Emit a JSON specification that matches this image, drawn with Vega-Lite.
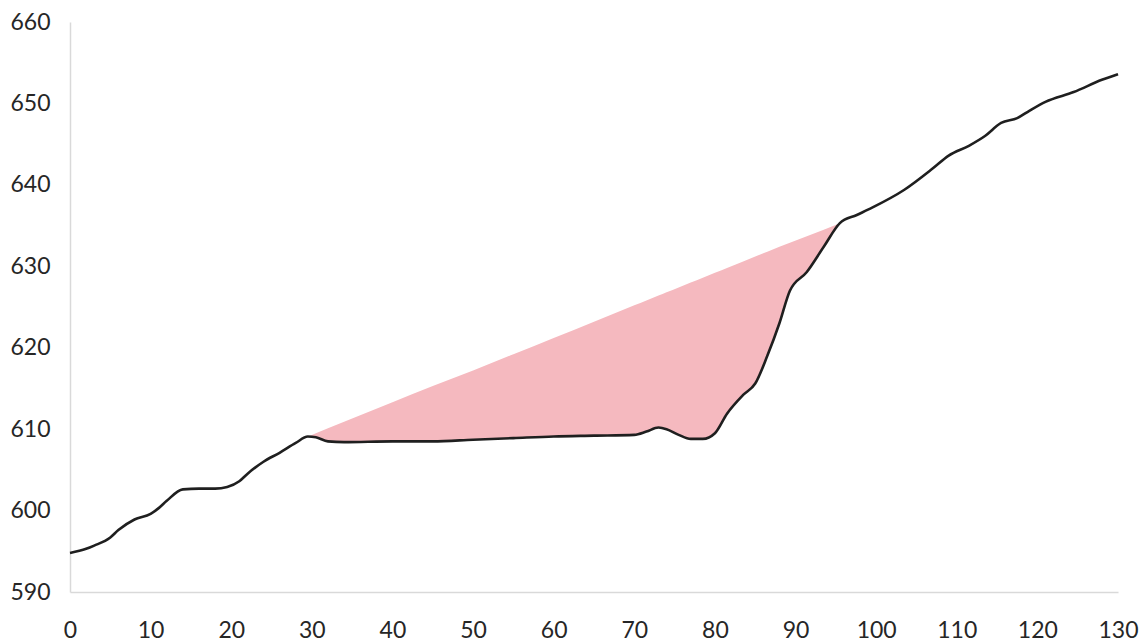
{
  "$schema": "https://vega.github.io/schema/vega-lite/v6.json",
  "width": 1048,
  "height": 570,
  "autosize": {"type": "none"},
  "padding": {"left": 70, "top": 22, "right": 24, "bottom": 50},
  "background": "white",
  "config": {"view": {"stroke": null}},
  "datasets": {
    "profile": [
      {"x": 0, "elev": 594.8}, {"x": 2, "elev": 595.3}, {"x": 3, "elev": 595.7}, {"x": 5, "elev": 596.7},
      {"x": 6, "elev": 597.6}, {"x": 8, "elev": 598.9}, {"x": 10, "elev": 599.6}, {"x": 11, "elev": 600.3},
      {"x": 12, "elev": 601.2}, {"x": 14, "elev": 602.6}, {"x": 16, "elev": 602.7}, {"x": 18, "elev": 602.7},
      {"x": 19.5, "elev": 602.9}, {"x": 21, "elev": 603.6}, {"x": 22, "elev": 604.5}, {"x": 24, "elev": 606.0},
      {"x": 26, "elev": 607.1}, {"x": 28, "elev": 608.3}, {"x": 29.5, "elev": 609.1}, {"x": 30.5, "elev": 609.0},
      {"x": 32, "elev": 608.5}, {"x": 34, "elev": 608.4}, {"x": 40, "elev": 608.5}, {"x": 45, "elev": 608.5},
      {"x": 50, "elev": 608.7}, {"x": 55, "elev": 608.9}, {"x": 60, "elev": 609.1}, {"x": 65, "elev": 609.2},
      {"x": 70, "elev": 609.3}, {"x": 71.5, "elev": 609.7}, {"x": 73, "elev": 610.2}, {"x": 74, "elev": 610.0},
      {"x": 75.5, "elev": 609.3}, {"x": 77, "elev": 608.8}, {"x": 78.5, "elev": 608.8}, {"x": 80, "elev": 609.5},
      {"x": 81.5, "elev": 611.9}, {"x": 83.5, "elev": 614.2}, {"x": 85, "elev": 615.6}, {"x": 86.5, "elev": 619.0},
      {"x": 88, "elev": 623.0}, {"x": 89.3, "elev": 627.0}, {"x": 91.4, "elev": 629.3}, {"x": 93.5, "elev": 632.4},
      {"x": 95.5, "elev": 635.3}, {"x": 97.6, "elev": 636.3}, {"x": 99.5, "elev": 637.2}, {"x": 103.5, "elev": 639.4},
      {"x": 107, "elev": 642.0}, {"x": 109, "elev": 643.6}, {"x": 111.5, "elev": 644.8}, {"x": 113.5, "elev": 646.0},
      {"x": 115.5, "elev": 647.6}, {"x": 117.5, "elev": 648.2}, {"x": 119, "elev": 649.1}, {"x": 121, "elev": 650.2},
      {"x": 124.5, "elev": 651.4}, {"x": 128, "elev": 652.9}, {"x": 130, "elev": 653.6}
    ],
    "cut": [
      {"x": 29.5, "elev": 609.1, "top": 609.1}, {"x": 30.5, "elev": 609.0, "top": 609.5},
      {"x": 32, "elev": 608.5, "top": 610.1}, {"x": 34, "elev": 608.4, "top": 610.9},
      {"x": 40, "elev": 608.5, "top": 613.3}, {"x": 45, "elev": 608.5, "top": 615.3},
      {"x": 50, "elev": 608.7, "top": 617.2}, {"x": 55, "elev": 608.9, "top": 619.2},
      {"x": 60, "elev": 609.1, "top": 621.2}, {"x": 65, "elev": 609.2, "top": 623.2},
      {"x": 70, "elev": 609.3, "top": 625.2}, {"x": 71.5, "elev": 609.7, "top": 625.8},
      {"x": 73, "elev": 610.2, "top": 626.4}, {"x": 74, "elev": 610.0, "top": 626.8},
      {"x": 75.5, "elev": 609.3, "top": 627.4}, {"x": 77, "elev": 608.8, "top": 628.0},
      {"x": 78.5, "elev": 608.8, "top": 628.6}, {"x": 80, "elev": 609.5, "top": 629.2},
      {"x": 81.5, "elev": 611.9, "top": 629.8}, {"x": 83.5, "elev": 614.2, "top": 630.6},
      {"x": 85, "elev": 615.6, "top": 631.2}, {"x": 86.5, "elev": 619.0, "top": 631.8},
      {"x": 88, "elev": 623.0, "top": 632.4}, {"x": 89.3, "elev": 627.0, "top": 632.9},
      {"x": 91.4, "elev": 629.3, "top": 633.7}, {"x": 93.5, "elev": 632.4, "top": 634.5},
      {"x": 95.5, "elev": 635.3, "top": 635.3}
    ]
  },
  "layer": [
    {
      "data": {"name": "cut"},
      "mark": {"type": "area", "interpolate": "monotone", "color": "#f5b9bf", "opacity": 1},
      "encoding": {
        "x": {"field": "x", "type": "quantitative"},
        "y": {"field": "elev", "type": "quantitative"},
        "y2": {"field": "top"}
      }
    },
    {
      "data": {"name": "profile"},
      "mark": {"type": "line", "interpolate": "monotone", "color": "#1f1f1f", "strokeWidth": 2.6},
      "encoding": {
        "x": {
          "field": "x", "type": "quantitative",
          "scale": {"domain": [0, 130], "nice": false, "zero": false},
          "axis": {
            "title": null, "values": [0,10,20,30,40,50,60,70,80,90,100,110,120,130],
            "grid": false, "ticks": false, "domainColor": "#d9d9d9", "domainWidth": 1.5,
            "labelFont": "Lato", "labelFontSize": 23, "labelColor": "#262626",
            "labelPadding": 27, "labelFlush": false
          }
        },
        "y": {
          "field": "elev", "type": "quantitative",
          "scale": {"domain": [590, 660], "nice": false, "zero": false},
          "axis": {
            "title": null, "values": [590,600,610,620,630,640,650,660],
            "grid": false, "ticks": false, "domainColor": "#d9d9d9", "domainWidth": 1.5,
            "labelFont": "Lato", "labelFontSize": 23, "labelColor": "#262626",
            "labelPadding": 20, "labelFlush": false
          }
        }
      }
    }
  ]
}
